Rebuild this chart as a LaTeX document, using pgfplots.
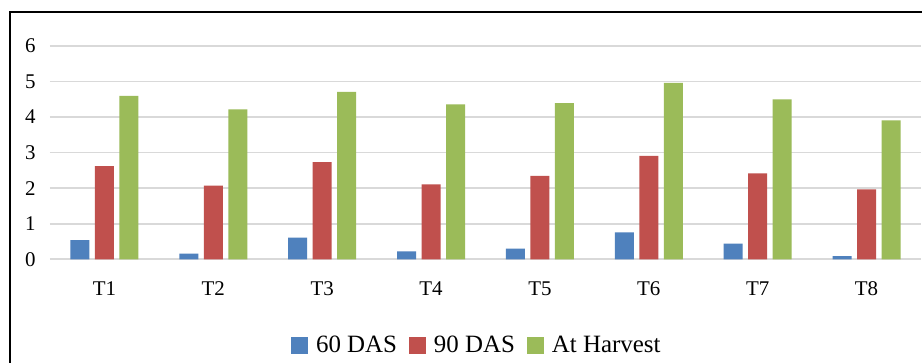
\documentclass[border=0pt]{standalone}
\usepackage{pgfplots}
\pgfplotsset{compat=1.18}
\usepackage{fontspec}
\setmainfont{Liberation Serif}
\definecolor{cblue}{HTML}{4F81BD}
\definecolor{cred}{HTML}{C0504D}
\definecolor{cgreen}{HTML}{9BBB59}
\definecolor{cgrid}{HTML}{D9D9D9}
\begin{document}
\begin{tikzpicture}
\path[use as bounding box] (0,0) rectangle (922bp,363bp);
\fill[white] (0,0) rectangle (922bp,363bp);
\draw[line width=2bp, black] (10bp,-2bp) -- (10bp,351bp) -- (925bp,351bp);
\begin{axis}[
  at={(50bp,103.7bp)}, anchor=south west,
  scale only axis, width=871bp, height=213.3bp,
  ymin=0, ymax=6, ytick={0,1,...,6},
  xmin=-0.5, xmax=7.5,
  xtick=data, xticklabels={T1,T2,T3,T4,T5,T6,T7,T8},
  ybar=5.5bp, bar width=19bp,
  axis line style={draw=none},
  major tick length=0pt,
  ymajorgrids, major grid style={cgrid, line width=1.6bp},
  /pgf/number format/assume math mode=true,
  tick label style={font=\fontsize{21}{24}\selectfont, text=black},
  y tick label style={xshift=-11bp},
  x tick label style={yshift=-19bp},
  legend style={at={(0.49,-0.402)}, anchor=center, draw=none, fill=none,
    legend columns=-1, font=\fontsize{25}{28}\selectfont,
    /tikz/every even column/.append style={column sep=10bp},
    /tikz/every odd column/.append style={column sep=6bp}},
  legend image code/.code={\fill[#1,draw=none] (0bp,-8.5bp) rectangle (17bp,8.5bp);},
]
\addplot[fill=cblue, draw=none] coordinates {(0,0.54) (1,0.16) (2,0.61) (3,0.22) (4,0.30) (5,0.76) (6,0.44) (7,0.09)};
\addplot[fill=cred, draw=none] coordinates {(0,2.62) (1,2.07) (2,2.73) (3,2.11) (4,2.35) (5,2.91) (6,2.42) (7,1.97)};
\addplot[fill=cgreen, draw=none] coordinates {(0,4.60) (1,4.22) (2,4.71) (3,4.36) (4,4.39) (5,4.96) (6,4.50) (7,3.91)};
\legend{60 DAS, 90 DAS, At Harvest}
\end{axis}
\end{tikzpicture}
\end{document}
